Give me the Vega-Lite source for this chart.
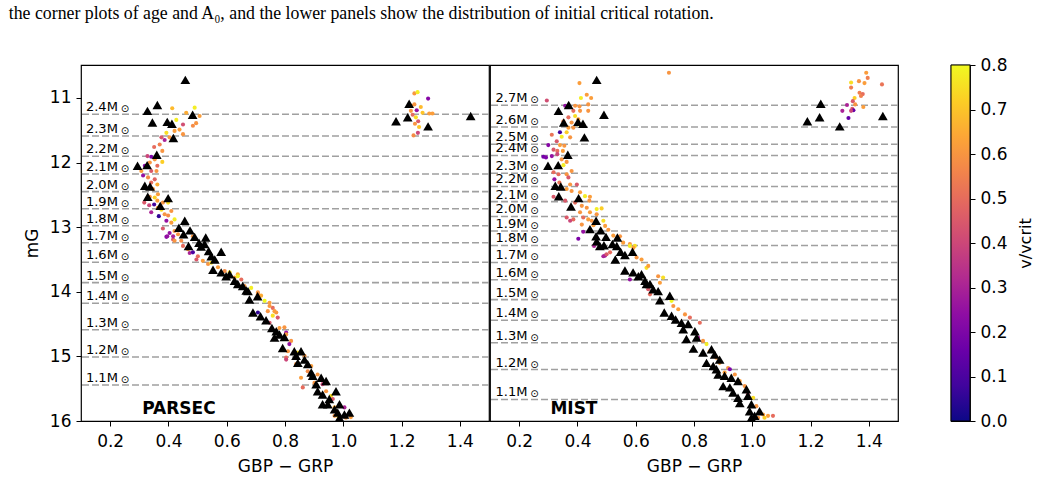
{
"$schema": "https://vega.github.io/schema/vega-lite/v6.json",
"background": "white",
"padding": {"left": 8, "top": 4, "right": 5, "bottom": 5},
"title": {"text": "the corner plots of age and A₀, and the lower panels show the distribution of initial critical rotation.", "anchor": "start", "font": "Liberation Serif", "fontSize": 17.8, "fontWeight": "normal", "color": "black", "offset": 33, "dx": -14},
"config": {
  "font": "DejaVu Sans",
  "view": {"stroke": "black", "strokeWidth": 1.2},
  "axis": {"labelFont": "DejaVu Sans", "titleFont": "DejaVu Sans", "labelColor": "black", "titleColor": "black", "tickColor": "black", "domain": false, "grid": false, "labelFontSize": 17, "titleFontSize": 17, "titleFontWeight": "normal", "tickSize": 5, "tickWidth": 1, "labelPadding": 5},
  "axisX": {"labelPadding": 7}
},
"datasets": {
"parsec_lines": [
{"m":11.252,"lab":"2.4M"},{"m":11.588,"lab":"2.3M"},{"m":11.902,"lab":"2.2M"},{"m":12.176,"lab":"2.1M"},{"m":12.450,"lab":"2.0M"},{"m":12.714,"lab":"1.9M"},{"m":12.977,"lab":"1.8M"},{"m":13.240,"lab":"1.7M"},{"m":13.543,"lab":"1.6M"},{"m":13.859,"lab":"1.5M"},{"m":14.178,"lab":"1.4M"},{"m":14.587,"lab":"1.3M"},{"m":15.009,"lab":"1.2M"},{"m":15.443,"lab":"1.1M"}],
"mist_lines": [
{"m":11.113,"lab":"2.7M"},{"m":11.449,"lab":"2.6M"},{"m":11.717,"lab":"2.5M"},{"m":11.890,"lab":"2.4M"},{"m":12.166,"lab":"2.3M"},{"m":12.370,"lab":"2.2M"},{"m":12.605,"lab":"2.1M"},{"m":12.834,"lab":"2.0M"},{"m":13.059,"lab":"1.9M"},{"m":13.283,"lab":"1.8M"},{"m":13.546,"lab":"1.7M"},{"m":13.813,"lab":"1.6M"},{"m":14.122,"lab":"1.5M"},{"m":14.441,"lab":"1.4M"},{"m":14.789,"lab":"1.3M"},{"m":15.203,"lab":"1.2M"},{"m":15.667,"lab":"1.1M"}],
"parsec_tri": [
{"c":0.458,"g":10.72},{"c":0.362,"g":11.11},{"c":0.328,"g":11.20},{"c":0.345,"g":11.38},{"c":0.396,"g":11.37},{"c":0.412,"g":11.40},{"c":0.483,"g":11.26},{"c":0.417,"g":11.62},{"c":0.360,"g":11.88},{"c":0.294,"g":12.05},{"c":0.327,"g":12.04},{"c":0.319,"g":12.36},{"c":0.337,"g":12.37},{"c":0.329,"g":12.53},{"c":0.399,"g":12.55},{"c":0.372,"g":12.67},{"c":0.456,"g":12.90},{"c":0.436,"g":13.01},{"c":0.474,"g":13.05},{"c":0.452,"g":13.11},{"c":0.490,"g":13.15},{"c":0.528,"g":13.16},{"c":0.524,"g":13.26},{"c":0.538,"g":13.37},{"c":0.547,"g":13.45},{"c":0.581,"g":13.38},{"c":0.559,"g":13.50},{"c":0.553,"g":13.66},{"c":0.581,"g":13.70},{"c":0.610,"g":13.73},{"c":0.627,"g":13.83},{"c":0.655,"g":13.91},{"c":0.673,"g":13.99},{"c":0.678,"g":14.12},{"c":0.706,"g":14.07},{"c":0.690,"g":14.32},{"c":0.716,"g":14.38},{"c":0.735,"g":14.44},{"c":0.755,"g":14.56},{"c":0.781,"g":14.66},{"c":0.798,"g":14.70},{"c":0.764,"g":14.71},{"c":0.792,"g":14.87},{"c":0.832,"g":14.92},{"c":0.855,"g":14.92},{"c":0.838,"g":14.99},{"c":0.844,"g":15.10},{"c":0.867,"g":15.05},{"c":0.878,"g":15.12},{"c":0.890,"g":15.25},{"c":0.895,"g":15.30},{"c":0.924,"g":15.33},{"c":0.907,"g":15.43},{"c":0.941,"g":15.38},{"c":0.912,"g":15.54},{"c":0.929,"g":15.59},{"c":0.952,"g":15.66},{"c":0.975,"g":15.54},{"c":0.947,"g":15.74},{"c":0.987,"g":15.74},{"c":0.981,"g":15.87},{"c":1.004,"g":15.90},{"c":1.021,"g":15.87},{"c":0.987,"g":15.95},{"c":0.970,"g":15.82},{"c":0.929,"g":15.74},{"c":0.598,"g":13.76},{"c":0.638,"g":13.88},{"c":0.667,"g":13.98},{"c":0.770,"g":14.61},{"c":0.469,"g":13.29},{"c":0.505,"g":13.24},{"c":0.512,"g":13.30},
{"c":1.181,"g":11.36},{"c":1.221,"g":11.30},{"c":1.226,"g":11.09},{"c":1.291,"g":11.44},{"c":1.437,"g":11.28}],
"mist_tri": [
{"c":0.466,"g":10.72},{"c":0.370,"g":11.11},{"c":0.335,"g":11.20},{"c":0.491,"g":11.26},{"c":0.353,"g":11.38},{"c":0.402,"g":11.37},{"c":0.419,"g":11.40},{"c":0.424,"g":11.61},{"c":0.367,"g":11.88},{"c":0.299,"g":12.05},{"c":0.334,"g":12.04},{"c":0.324,"g":12.36},{"c":0.343,"g":12.37},{"c":0.336,"g":12.52},{"c":0.404,"g":12.55},{"c":0.378,"g":12.68},{"c":0.464,"g":12.90},{"c":0.443,"g":13.03},{"c":0.480,"g":13.05},{"c":0.464,"g":13.14},{"c":0.498,"g":13.15},{"c":0.537,"g":13.16},{"c":0.477,"g":13.29},{"c":0.535,"g":13.29},{"c":0.548,"g":13.38},{"c":0.563,"g":13.43},{"c":0.530,"g":13.50},{"c":0.589,"g":13.38},{"c":0.563,"g":13.67},{"c":0.591,"g":13.70},{"c":0.609,"g":13.76},{"c":0.620,"g":13.73},{"c":0.632,"g":13.83},{"c":0.637,"g":13.88},{"c":0.649,"g":13.88},{"c":0.660,"g":13.96},{"c":0.677,"g":13.99},{"c":0.683,"g":14.13},{"c":0.717,"g":14.06},{"c":0.698,"g":14.32},{"c":0.723,"g":14.37},{"c":0.737,"g":14.43},{"c":0.757,"g":14.48},{"c":0.780,"g":14.50},{"c":0.763,"g":14.58},{"c":0.803,"g":14.61},{"c":0.774,"g":14.73},{"c":0.809,"g":14.71},{"c":0.798,"g":14.88},{"c":0.831,"g":14.94},{"c":0.860,"g":14.89},{"c":0.871,"g":14.97},{"c":0.888,"g":15.05},{"c":0.843,"g":15.10},{"c":0.866,"g":15.15},{"c":0.877,"g":15.20},{"c":0.883,"g":15.28},{"c":0.905,"g":15.30},{"c":0.928,"g":15.33},{"c":0.951,"g":15.38},{"c":0.900,"g":15.46},{"c":0.923,"g":15.48},{"c":0.934,"g":15.56},{"c":0.980,"g":15.51},{"c":0.951,"g":15.64},{"c":0.985,"g":15.61},{"c":0.957,"g":15.72},{"c":0.997,"g":15.74},{"c":0.991,"g":15.85},{"c":1.025,"g":15.85},{"c":0.997,"g":15.95},{"c":1.008,"g":15.92},{"c":0.466,"g":13.22},{"c":0.491,"g":13.28},{"c":0.520,"g":13.26},
{"c":1.235,"g":11.09},{"c":1.231,"g":11.30},{"c":1.189,"g":11.36},{"c":1.300,"g":11.44},{"c":1.448,"g":11.28}],
"parsec_mod": [
{"c":1.244,"g":10.93,"v":0.6},{"c":1.255,"g":10.91,"v":0.78},{"c":1.291,"g":11.01,"v":0.22},{"c":1.252,"g":11.19,"v":0.25},{"c":1.232,"g":11.20,"v":0.6},{"c":1.244,"g":11.10,"v":0.6},{"c":1.266,"g":11.14,"v":0.68},{"c":1.249,"g":11.30,"v":0.75},{"c":1.238,"g":11.26,"v":0.5},{"c":1.257,"g":11.36,"v":0.45},{"c":1.246,"g":11.40,"v":0.6},{"c":1.260,"g":11.45,"v":0.7},{"c":1.256,"g":11.54,"v":0.4},{"c":1.241,"g":11.58,"v":0.58},{"c":1.272,"g":11.23,"v":0.7},{"c":1.295,"g":11.24,"v":0.62},{"c":1.306,"g":11.24,"v":0.62},{"c":1.234,"g":11.12,"v":0.6},
{"c":0.413,"g":11.16,"v":0.68},{"c":0.490,"g":11.15,"v":0.78},{"c":0.461,"g":11.23,"v":0.65},{"c":0.507,"g":11.28,"v":0.62},{"c":0.495,"g":11.39,"v":0.6},{"c":0.484,"g":11.43,"v":0.58},{"c":0.450,"g":11.41,"v":0.42},{"c":0.427,"g":11.34,"v":0.78},{"c":0.438,"g":11.49,"v":0.62},{"c":0.450,"g":11.56,"v":0.6},{"c":0.421,"g":11.51,"v":0.62},{"c":0.393,"g":11.54,"v":0.75},{"c":0.404,"g":11.61,"v":0.6},{"c":0.376,"g":11.61,"v":0.45},{"c":0.387,"g":11.65,"v":0.3},{"c":0.370,"g":11.72,"v":0.55},{"c":0.351,"g":11.76,"v":0.5},{"c":0.379,"g":11.82,"v":0.6},{"c":0.341,"g":11.91,"v":0.2},{"c":0.328,"g":11.90,"v":0.4},{"c":0.353,"g":11.95,"v":0.6},{"c":0.379,"g":11.99,"v":0.72},{"c":0.336,"g":12.00,"v":0.6},{"c":0.319,"g":12.05,"v":0.22},{"c":0.362,"g":12.05,"v":0.5},{"c":0.307,"g":12.13,"v":0.62},{"c":0.341,"g":12.13,"v":0.45},{"c":0.313,"g":12.20,"v":0.25},{"c":0.359,"g":12.13,"v":0.6},{"c":0.330,"g":12.23,"v":0.58},{"c":0.353,"g":12.26,"v":0.48},{"c":0.341,"g":12.31,"v":0.5},{"c":0.362,"g":12.34,"v":0.65},{"c":0.347,"g":12.41,"v":0.6},{"c":0.364,"g":12.49,"v":0.62},{"c":0.353,"g":12.54,"v":0.72},{"c":0.336,"g":12.53,"v":0.6},{"c":0.317,"g":12.62,"v":0.45},{"c":0.334,"g":12.66,"v":0.4},{"c":0.351,"g":12.65,"v":0.08},{"c":0.362,"g":12.59,"v":0.62},{"c":0.381,"g":12.62,"v":0.6},{"c":0.399,"g":12.62,"v":0.75},{"c":0.364,"g":12.70,"v":0.62},{"c":0.341,"g":12.77,"v":0.3},{"c":0.376,"g":12.73,"v":0.75},{"c":0.387,"g":12.80,"v":0.6},{"c":0.367,"g":12.83,"v":0.05},{"c":0.410,"g":12.75,"v":0.6},{"c":0.399,"g":12.82,"v":0.58},{"c":0.393,"g":12.90,"v":0.25},{"c":0.421,"g":12.88,"v":0.78},{"c":0.410,"g":12.93,"v":0.62},{"c":0.381,"g":13.02,"v":0.45},{"c":0.404,"g":13.09,"v":0.25},{"c":0.393,"g":13.15,"v":0.22},{"c":0.421,"g":13.06,"v":0.6},{"c":0.416,"g":13.19,"v":0.45},{"c":0.433,"g":13.11,"v":0.6},{"c":0.444,"g":13.21,"v":0.58},{"c":0.473,"g":13.40,"v":0.3},{"c":0.450,"g":13.29,"v":0.5},{"c":0.484,"g":13.14,"v":0.6},
{"c":0.396,"g":13.14,"v":0.25},{"c":0.416,"g":13.14,"v":0.3},{"c":0.421,"g":13.21,"v":0.6},{"c":0.467,"g":13.34,"v":0.6},{"c":0.484,"g":13.39,"v":0.1},{"c":0.501,"g":13.45,"v":0.5},{"c":0.496,"g":13.50,"v":0.45},{"c":0.518,"g":13.52,"v":0.62},{"c":0.536,"g":13.57,"v":0.6},{"c":0.547,"g":13.55,"v":0.75},{"c":0.570,"g":13.62,"v":0.62},{"c":0.593,"g":13.68,"v":0.58},{"c":0.610,"g":13.70,"v":0.75},{"c":0.627,"g":13.78,"v":0.62},{"c":0.638,"g":13.73,"v":0.65},{"c":0.650,"g":13.81,"v":0.5},{"c":0.661,"g":13.91,"v":0.6},{"c":0.684,"g":13.94,"v":0.78},{"c":0.707,"g":14.01,"v":0.6},{"c":0.718,"g":14.06,"v":0.65},{"c":0.730,"g":14.14,"v":0.8},{"c":0.747,"g":14.17,"v":0.62},{"c":0.758,"g":14.25,"v":0.5},{"c":0.707,"g":14.32,"v":0.05},{"c":0.741,"g":14.30,"v":0.6},{"c":0.770,"g":14.32,"v":0.6},{"c":0.775,"g":14.40,"v":0.45},{"c":0.798,"g":14.55,"v":0.6},{"c":0.804,"g":14.63,"v":0.25},{"c":0.804,"g":15.02,"v":0.5},{"c":0.810,"g":14.92,"v":0.6},
{"c":0.638,"g":13.76,"v":0.78},{"c":0.707,"g":14.04,"v":0.6},{"c":0.747,"g":14.22,"v":0.6},{"c":0.764,"g":14.30,"v":0.62},{"c":0.758,"g":14.37,"v":0.75},{"c":0.747,"g":14.48,"v":0.45},{"c":0.781,"g":14.56,"v":0.62},{"c":0.804,"g":14.66,"v":0.6},{"c":0.821,"g":14.76,"v":0.6},{"c":0.815,"g":14.81,"v":0.25},{"c":0.804,"g":15.05,"v":0.4},{"c":0.844,"g":14.94,"v":0.75},{"c":0.867,"g":14.99,"v":0.6},{"c":0.890,"g":15.15,"v":0.62},{"c":0.855,"g":15.33,"v":0.62},{"c":0.861,"g":15.48,"v":0.5},{"c":0.901,"g":15.41,"v":0.6},{"c":0.929,"g":15.43,"v":0.4},{"c":0.941,"g":15.54,"v":0.6},{"c":0.958,"g":15.61,"v":0.75},{"c":0.964,"g":15.66,"v":0.45},{"c":0.947,"g":15.74,"v":0.6},{"c":0.970,"g":15.79,"v":0.65},{"c":1.004,"g":15.79,"v":0.3},{"c":0.981,"g":15.92,"v":0.75},{"c":1.009,"g":15.95,"v":0.6},{"c":1.026,"g":15.94,"v":0.62},{"c":0.970,"g":15.92,"v":0.6},{"c":0.912,"g":15.28,"v":0.6},{"c":0.878,"g":15.23,"v":0.58},{"c":0.838,"g":15.12,"v":0.6}],
"mist_mod": [
{"c":1.391,"g":10.61,"v":0.62},{"c":1.396,"g":10.69,"v":0.55},{"c":1.366,"g":10.74,"v":0.6},{"c":1.385,"g":10.77,"v":0.62},{"c":1.339,"g":10.76,"v":0.75},{"c":1.339,"g":10.84,"v":0.55},{"c":1.445,"g":10.79,"v":0.52},{"c":1.368,"g":10.92,"v":0.55},{"c":1.379,"g":10.94,"v":0.5},{"c":1.373,"g":10.97,"v":0.55},{"c":1.351,"g":11.00,"v":0.72},{"c":1.345,"g":11.05,"v":0.45},{"c":1.353,"g":11.10,"v":0.6},{"c":1.325,"g":11.11,"v":0.3},{"c":1.381,"g":11.14,"v":0.62},{"c":1.343,"g":11.17,"v":0.45},{"c":1.347,"g":11.19,"v":0.15},{"c":1.309,"g":11.20,"v":0.3},{"c":1.339,"g":11.20,"v":0.4},{"c":1.330,"g":11.31,"v":0.15},{"c":0.714,"g":10.61,"v":0.6},
{"c":0.407,"g":10.77,"v":0.62},{"c":0.412,"g":11.00,"v":0.78},{"c":0.432,"g":10.95,"v":0.62},{"c":0.447,"g":11.00,"v":0.62},{"c":0.295,"g":11.04,"v":0.42},{"c":0.358,"g":11.12,"v":0.25},{"c":0.392,"g":11.12,"v":0.6},{"c":0.407,"g":11.13,"v":0.6},{"c":0.437,"g":11.10,"v":0.6},{"c":0.386,"g":11.20,"v":0.5},{"c":0.409,"g":11.20,"v":0.6},{"c":0.437,"g":11.20,"v":0.6},{"c":0.392,"g":11.28,"v":0.75},{"c":0.369,"g":11.30,"v":0.5},{"c":0.403,"g":11.33,"v":0.62},{"c":0.352,"g":11.36,"v":0.55},{"c":0.380,"g":11.38,"v":0.6},{"c":0.403,"g":11.41,"v":0.78},{"c":0.369,"g":11.46,"v":0.62},{"c":0.386,"g":11.46,"v":0.6},{"c":0.340,"g":11.53,"v":0.08},{"c":0.363,"g":11.53,"v":0.72},{"c":0.312,"g":11.57,"v":0.52},{"c":0.346,"g":11.60,"v":0.78},{"c":0.375,"g":11.61,"v":0.6},{"c":0.329,"g":11.67,"v":0.45},{"c":0.340,"g":11.73,"v":0.62},{"c":0.355,"g":11.74,"v":0.6},{"c":0.300,"g":11.73,"v":0.22},{"c":0.318,"g":11.80,"v":0.45},{"c":0.331,"g":11.82,"v":0.5},{"c":0.350,"g":11.82,"v":0.62},{"c":0.283,"g":11.91,"v":0.18},{"c":0.292,"g":11.92,"v":0.2},{"c":0.312,"g":11.90,"v":0.25},{"c":0.331,"g":11.87,"v":0.4},{"c":0.346,"g":11.95,"v":0.6},{"c":0.363,"g":11.99,"v":0.6},{"c":0.352,"g":12.04,"v":0.78},{"c":0.318,"g":12.15,"v":0.5},{"c":0.335,"g":12.18,"v":0.5},{"c":0.363,"g":12.18,"v":0.6},{"c":0.380,"g":12.13,"v":0.6},{"c":0.369,"g":12.23,"v":0.45},{"c":0.321,"g":12.26,"v":0.25},{"c":0.338,"g":12.31,"v":0.52},{"c":0.375,"g":12.34,"v":0.6},{"c":0.398,"g":12.34,"v":0.45},{"c":0.363,"g":12.41,"v":0.62},{"c":0.380,"g":12.44,"v":0.6},{"c":0.409,"g":12.46,"v":0.62},{"c":0.426,"g":12.52,"v":0.78},{"c":0.443,"g":12.53,"v":0.62},{"c":0.318,"g":12.53,"v":0.45},{"c":0.441,"g":12.59,"v":0.6},{"c":0.358,"g":12.59,"v":0.45},{"c":0.392,"g":12.62,"v":0.5},{"c":0.415,"g":12.67,"v":0.6},{"c":0.432,"g":12.70,"v":0.6},{"c":0.466,"g":12.72,"v":0.78},{"c":0.483,"g":12.71,"v":0.72},{"c":0.409,"g":12.77,"v":0.6},{"c":0.443,"g":12.77,"v":0.62},{"c":0.466,"g":12.80,"v":0.6},{"c":0.363,"g":12.85,"v":0.45},{"c":0.386,"g":12.88,"v":0.5},{"c":0.420,"g":12.85,"v":0.5},{"c":0.437,"g":12.88,"v":0.62},{"c":0.449,"g":12.90,"v":0.6},{"c":0.375,"g":12.90,"v":0.4},{"c":0.489,"g":12.90,"v":0.75},{"c":0.415,"g":12.96,"v":0.6},{"c":0.455,"g":12.97,"v":0.62},{"c":0.495,"g":12.98,"v":0.62},{"c":0.420,"g":13.07,"v":0.25},{"c":0.506,"g":13.04,"v":0.6},{"c":0.403,"g":13.18,"v":0.2},{"c":0.523,"g":13.13,"v":0.62},{"c":0.546,"g":13.14,"v":0.6},{"c":0.557,"g":13.24,"v":0.62},{"c":0.580,"g":13.26,"v":0.6},{"c":0.597,"g":13.29,"v":0.75},{"c":0.495,"g":13.44,"v":0.3},{"c":0.457,"g":13.29,"v":0.3},
{"c":0.489,"g":13.45,"v":0.3},{"c":0.500,"g":13.42,"v":0.45},{"c":0.512,"g":13.39,"v":0.5},{"c":0.580,"g":13.29,"v":0.78},{"c":0.592,"g":13.32,"v":0.62},{"c":0.603,"g":13.47,"v":0.6},{"c":0.620,"g":13.50,"v":0.62},{"c":0.637,"g":13.63,"v":0.75},{"c":0.643,"g":13.60,"v":0.62},{"c":0.580,"g":13.81,"v":0.25},{"c":0.677,"g":13.76,"v":0.6},{"c":0.694,"g":13.78,"v":0.75},{"c":0.683,"g":13.86,"v":0.62},{"c":0.649,"g":14.04,"v":0.5},{"c":0.643,"g":13.96,"v":0.45},{"c":0.723,"g":14.14,"v":0.8},{"c":0.729,"g":14.22,"v":0.6},{"c":0.746,"g":14.27,"v":0.62},{"c":0.769,"g":14.35,"v":0.6},{"c":0.786,"g":14.40,"v":0.5},{"c":0.820,"g":14.48,"v":0.5},{"c":0.814,"g":14.71,"v":0.3},{"c":0.831,"g":14.76,"v":0.6},{"c":0.843,"g":14.81,"v":0.78},{"c":0.854,"g":14.92,"v":0.62},{"c":0.877,"g":15.02,"v":0.6},{"c":0.888,"g":15.10,"v":0.62},{"c":0.917,"g":15.18,"v":0.6},{"c":0.923,"g":15.20,"v":0.2},{"c":0.940,"g":15.28,"v":0.6},{"c":0.957,"g":15.38,"v":0.62},{"c":0.974,"g":15.46,"v":0.6},{"c":0.985,"g":15.59,"v":0.42},{"c":1.003,"g":15.64,"v":0.75},{"c":1.014,"g":15.77,"v":0.6},{"c":1.037,"g":15.90,"v":0.62},{"c":1.054,"g":15.92,"v":0.62},{"c":1.071,"g":15.92,"v":0.5},{"c":1.020,"g":15.95,"v":0.6},{"c":1.042,"g":15.95,"v":0.72},{"c":0.905,"g":15.25,"v":0.62},{"c":0.866,"g":15.15,"v":0.6}]
},
"spacing": 49,
"hconcat": [
{"spacing": 1, "bounds": "flush", "hconcat": [
{
 "width": 408, "height": 356,
 "layer": [
  {"data": {"name": "parsec_lines"}, "mark": {"type": "rule", "strokeDash": [7, 3], "color": "#a0a0a0", "strokeWidth": 1.6},
   "encoding": {"y": {"field": "m", "type": "quantitative", "scale": {"domain": [10.49, 16], "reverse": true, "nice": false, "zero": false}, "axis": {"values": [11, 12, 13, 14, 15, 16], "format": "d", "title": "mG", "titlePadding": 8}}}},
  {"data": {"name": "parsec_lines"}, "mark": {"type": "text", "align": "left", "baseline": "alphabetic", "dy": -3, "fontSize": 13, "color": "black"},
   "encoding": {"x": {"datum": 0.117, "type": "quantitative", "scale": {"domain": [0.1, 1.5], "nice": false, "zero": false}}, "y": {"field": "m", "type": "quantitative"}, "text": {"field": "lab"}}},
  {"data": {"name": "parsec_lines"}, "mark": {"type": "text", "align": "center", "baseline": "middle", "dx": 39, "dy": -5, "fontSize": 10, "color": "black", "text": "⊙"},
   "encoding": {"x": {"datum": 0.117, "type": "quantitative"}, "y": {"field": "m", "type": "quantitative"}}},
  {"data": {"name": "parsec_mod"}, "mark": {"type": "circle", "size": 17, "opacity": 1},
   "encoding": {"x": {"field": "c", "type": "quantitative", "scale": {"domain": [0.1, 1.5], "nice": false, "zero": false}, "axis": {"values": [0.2, 0.4, 0.6, 0.8, 1.0, 1.2, 1.4], "format": ".1f", "title": "GBP − GRP", "titlePadding": 9}},
    "y": {"field": "g", "type": "quantitative"},
    "color": {"field": "v", "type": "quantitative", "scale": {"scheme": "plasma", "domain": [0, 0.8]}, "legend": null}}},
  {"data": {"name": "parsec_tri"}, "mark": {"type": "point", "shape": "triangle-up", "filled": true, "color": "black", "size": 95, "opacity": 1},
   "encoding": {"x": {"field": "c", "type": "quantitative"}, "y": {"field": "g", "type": "quantitative"}}},
  {"data": {"values": [{"name": "PARSEC"}]}, "mark": {"type": "text", "fontSize": 17, "fontWeight": "bold", "align": "center", "baseline": "middle", "color": "black"},
   "encoding": {"x": {"datum": 0.436, "type": "quantitative"}, "y": {"datum": 15.81, "type": "quantitative"}, "text": {"field": "name"}}}
 ]
},
{
 "width": 408, "height": 356,
 "layer": [
  {"data": {"name": "mist_lines"}, "mark": {"type": "rule", "strokeDash": [7, 3], "color": "#a0a0a0", "strokeWidth": 1.6},
   "encoding": {"y": {"field": "m", "type": "quantitative", "scale": {"domain": [10.49, 16], "reverse": true, "nice": false, "zero": false}, "axis": null}}},
  {"data": {"name": "mist_lines"}, "mark": {"type": "text", "align": "left", "baseline": "alphabetic", "dy": -3, "fontSize": 13, "color": "black"},
   "encoding": {"x": {"datum": 0.119, "type": "quantitative", "scale": {"domain": [0.1, 1.5], "nice": false, "zero": false}}, "y": {"field": "m", "type": "quantitative", "axis": null}, "text": {"field": "lab"}}},
  {"data": {"name": "mist_lines"}, "mark": {"type": "text", "align": "center", "baseline": "middle", "dx": 39, "dy": -5, "fontSize": 10, "color": "black", "text": "⊙"},
   "encoding": {"x": {"datum": 0.119, "type": "quantitative"}, "y": {"field": "m", "type": "quantitative", "axis": null}}},
  {"data": {"name": "mist_mod"}, "mark": {"type": "circle", "size": 17, "opacity": 1},
   "encoding": {"x": {"field": "c", "type": "quantitative", "scale": {"domain": [0.1, 1.5], "nice": false, "zero": false}, "axis": {"values": [0.2, 0.4, 0.6, 0.8, 1.0, 1.2, 1.4], "format": ".1f", "title": "GBP − GRP", "titlePadding": 9}},
    "y": {"field": "g", "type": "quantitative", "axis": null},
    "color": {"field": "v", "type": "quantitative", "scale": {"scheme": "plasma", "domain": [0, 0.8]}, "legend": null}}},
  {"data": {"name": "mist_tri"}, "mark": {"type": "point", "shape": "triangle-up", "filled": true, "color": "black", "size": 95, "opacity": 1},
   "encoding": {"x": {"field": "c", "type": "quantitative"}, "y": {"field": "g", "type": "quantitative", "axis": null}}},
  {"data": {"values": [{"name": "MIST"}]}, "mark": {"type": "text", "fontSize": 17, "fontWeight": "bold", "align": "center", "baseline": "middle", "color": "black"},
   "encoding": {"x": {"datum": 0.388, "type": "quantitative"}, "y": {"datum": 15.81, "type": "quantitative", "axis": null}, "text": {"field": "name"}}}
 ]
}
]},
{
 "width": 19, "height": 356,
 "data": {"values": [{"lo": 0, "hi": 0.8}]},
 "mark": {"type": "rect", "stroke": "black", "strokeWidth": 1,
   "color": {"gradient": "linear", "x1": 0, "y1": 1, "x2": 0, "y2": 0,
     "stops": [{"offset": 0, "color": "#0d0887"}, {"offset": 0.1, "color": "#41049d"}, {"offset": 0.2, "color": "#6a00a8"}, {"offset": 0.3, "color": "#8f0da4"}, {"offset": 0.4, "color": "#b12a90"}, {"offset": 0.5, "color": "#cc4778"}, {"offset": 0.6, "color": "#e16462"}, {"offset": 0.7, "color": "#f2844b"}, {"offset": 0.8, "color": "#fca636"}, {"offset": 0.9, "color": "#fcce25"}, {"offset": 1, "color": "#f0f921"}]}},
 "encoding": {
   "y": {"field": "lo", "type": "quantitative", "scale": {"domain": [0, 0.8], "nice": false, "zero": false}, "axis": {"orient": "right", "values": [0, 0.1, 0.2, 0.3, 0.4, 0.5, 0.6, 0.7, 0.8], "format": ".1f", "title": "v/vcrit", "titleAngle": 270, "titleBaseline": "top", "titlePadding": 10, "titleFontSize": 16, "labelPadding": 5}},
   "y2": {"field": "hi"}
 }
}
]
}
